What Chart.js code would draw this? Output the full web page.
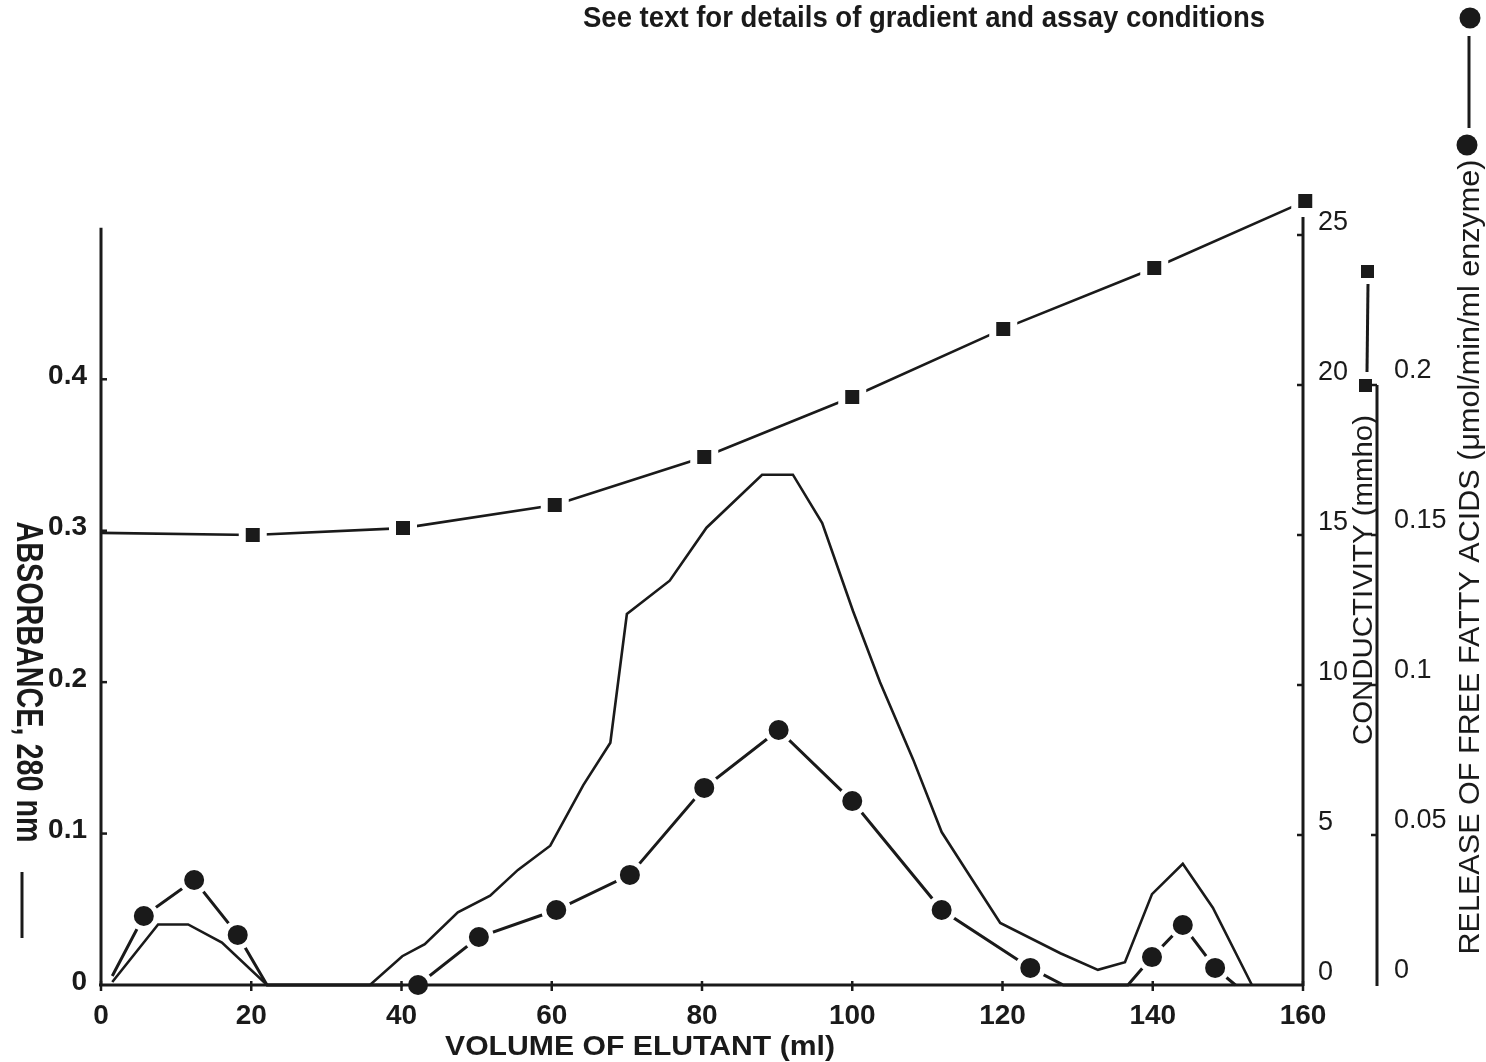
<!DOCTYPE html>
<html>
<head>
<meta charset="utf-8">
<script src="https://cdn.jsdelivr.net/npm/chart.js@4.4.1/dist/chart.umd.min.js"></script>
<style>
  html, body { margin: 0; padding: 0; background: #ffffff; }
  #wrap { width: 1486px; height: 1062px; position: relative; }
</style>
</head>
<body>
<div id="wrap"><canvas id="c" width="1486" height="1062"></canvas></div>
<script>
// ---------------- data ----------------
const xTickValues = [0, 20, 40, 60, 80, 100, 120, 140, 160];
const absTickValues = [0, 0.1, 0.2, 0.3, 0.4];
const absTickLabels = ['0', '0.1', '0.2', '0.3', '0.4'];
const condTickValues = [0, 5, 10, 15, 20, 25];
const condTickLabels = ['0', '5', '10', '15', '20', '25'];
const ffaTickValues = [0, 0.05, 0.1, 0.15, 0.2];
const ffaTickLabels = ['0', '0.05', '0.1', '0.15', '0.2'];

// Absorbance at 280 nm (solid trace)
const absVolume = [1.5, 7.6, 11.6, 16.1, 22.1, 35.8, 40.1, 43.1, 47.5, 51.8, 55.5, 59.8, 64.2, 67.8, 70.0, 75.7, 80.6, 88.0, 92.1, 96.0, 100.1, 103.7, 108.1, 111.9, 115.4, 119.7, 127.7, 132.7, 136.3, 139.9, 144.0, 148.0, 153.2];
const absValue  = [0.002, 0.040, 0.040, 0.028, 0, 0, 0.019, 0.027, 0.048, 0.059, 0.076, 0.092, 0.132, 0.160, 0.245, 0.267, 0.302, 0.337, 0.337, 0.305, 0.247, 0.200, 0.149, 0.101, 0.074, 0.041, 0.021, 0.010, 0.015, 0.060, 0.080, 0.051, 0];

// Release of free fatty acids (filled circles)
const ffaVolume  = [5.7, 12.4, 18.2, 42.2, 50.3, 60.6, 70.4, 80.3, 90.2, 100.0, 111.9, 123.7, 139.9, 144.0, 148.3];
const ffaRelease = [0.023, 0.035, 0.0167, 0, 0.016, 0.025, 0.0367, 0.0657, 0.085, 0.0613, 0.025, 0.0057, 0.0093, 0.020, 0.0057];
// where the activity trace meets the baseline
const ffaBaseVolume  = [1.5, 22.1, 128.1, 136.7, 151.0];
const ffaBaseRelease = [0.003, 0, 0, 0, 0];

// Conductivity (filled squares)
const condVolume = [20.2, 40.2, 60.4, 80.3, 100.0, 120.1, 140.2, 160.3];
const condValue  = [15.0, 15.23, 16.0, 17.6, 19.6, 21.87, 23.9, 26.13];
const condStartVolume = [0];
const condStartValue  = [15.07];

// ---------------- helpers ----------------
const INK = '#1a1a1a';
const FONT = '"Liberation Sans", Arial, Helvetica, sans-serif';
function pts(xs, ys) { return xs.map((x, i) => ({ x: x, y: ys[i] })); }
function merged(a, b) { return a.concat(b).sort((p, q) => p.x - q.x); }

function fitText(ctx, text, font, cx, cy, len, rot) {
  ctx.save();
  ctx.font = font;
  const w = ctx.measureText(text).width;
  ctx.translate(cx, cy);
  ctx.rotate(rot);
  ctx.scale(len / w, 1);
  ctx.textAlign = 'center';
  ctx.textBaseline = 'middle';
  ctx.fillStyle = INK;
  ctx.fillText(text, 0, 0);
  ctx.restore();
}
function seg(ctx, x1, y1, x2, y2) { ctx.beginPath(); ctx.moveTo(x1, y1); ctx.lineTo(x2, y2); ctx.stroke(); }

const axesPlugin = {
  id: 'axesPlugin',
  afterDatasetsDraw(chart) {
    const { ctx, scales } = chart;
    const sx = scales.x, sy = scales.y, sc = scales.y1, sf = scales.y2;
    const y0 = sy.getPixelForValue(0);
    const xl = sx.getPixelForValue(0);
    const xr = sx.getPixelForValue(160);
    const xc = sc.left;
    const xf = sf.left;
    ctx.save();
    ctx.strokeStyle = INK;
    ctx.lineCap = 'butt';
    ctx.lineWidth = 3;
    // x axis
    seg(ctx, xl - 2, y0, xr + 1, y0);
    // left (absorbance) axis
    seg(ctx, xl, y0 + 1, xl, sy.getPixelForValue(0.5));
    // conductivity axis
    seg(ctx, xc, sc.getPixelForValue(0) + 1, xc, sc.getPixelForValue(25.6));
    // FFA axis
    seg(ctx, xf, sf.getPixelForValue(0) + 1, xf, sf.getPixelForValue(0.2));
    ctx.lineWidth = 2.5;
    xTickValues.forEach(v => { const p = sx.getPixelForValue(v); seg(ctx, p, y0 - 4, p, y0 + 6); });
    absTickValues.forEach(v => { if (v > 0) { const p = sy.getPixelForValue(v); seg(ctx, xl, p, xl + 6, p); } });
    condTickValues.forEach(v => { if (v > 0) { const p = sc.getPixelForValue(v); seg(ctx, xc - 6, p, xc, p); } });
    ffaTickValues.forEach(v => { if (v > 0) { const p = sf.getPixelForValue(v); seg(ctx, xf - 6, p, xf, p); } });
    ctx.restore();
  },
  afterDraw(chart) {
    const { ctx } = chart;
    // axis titles
    fitText(ctx, 'ABSORBANCE, 280 nm', 'bold 36px ' + FONT, 27, 682, 321, Math.PI / 2);
    fitText(ctx, 'CONDUCTIVITY (mmho)', '28px ' + FONT, 1364, 580, 330, -Math.PI / 2);
    fitText(ctx, 'RELEASE OF FREE FATTY ACIDS (\u03BCmol/min/ml enzyme)', '30px ' + FONT, 1471, 557, 795, -Math.PI / 2);
    fitText(ctx, 'VOLUME OF ELUTANT (ml)', 'bold 27px ' + FONT, 640, 1048, 390, 0);
    fitText(ctx, 'See text for details of gradient and assay conditions', 'bold 29px ' + FONT, 924, 19, 682, 0);

    // key glyphs next to titles
    ctx.save();
    ctx.strokeStyle = INK; ctx.fillStyle = INK; ctx.lineWidth = 3;
    // absorbance: plain line
    seg(ctx, 22, 872, 22, 938);
    // conductivity: square - square
    ctx.fillRect(1361, 265, 13, 13);
    ctx.fillRect(1359, 379, 13, 13);
    seg(ctx, 1368, 284, 1367, 372);
    // FFA: circle - circle
    ctx.beginPath(); ctx.arc(1470, 18, 10.5, 0, Math.PI * 2); ctx.fill();
    ctx.beginPath(); ctx.arc(1467, 145, 10.5, 0, Math.PI * 2); ctx.fill();
    seg(ctx, 1469, 36, 1469, 128);
    ctx.restore();
  }
};

const ctx = document.getElementById('c').getContext('2d');
new Chart(ctx, {
  type: 'line',
  data: {
    datasets: [
      { label: 'Absorbance 280 nm', data: pts(absVolume, absValue), yAxisID: 'y',
        borderColor: INK, borderWidth: 2.6, pointRadius: 0, tension: 0, fill: false, clip: false },
      { label: 'FFA release (points)', data: pts(ffaVolume, ffaRelease), yAxisID: 'y2', showLine: false,
        pointRadius: 12.5, pointBorderWidth: 5, pointBackgroundColor: INK, pointBorderColor: '#ffffff', clip: false },
      { label: 'FFA release', data: merged(pts(ffaVolume, ffaRelease), pts(ffaBaseVolume, ffaBaseRelease)), yAxisID: 'y2',
        borderColor: INK, borderWidth: 3, pointRadius: 0, tension: 0, fill: false, clip: false },
      { label: 'Conductivity (points)', data: pts(condVolume, condValue), yAxisID: 'y1', showLine: false,
        pointStyle: 'rect', pointRadius: 14.85, pointBorderWidth: 7, pointBackgroundColor: INK, pointBorderColor: '#ffffff', clip: false },
      { label: 'Conductivity', data: merged(pts(condStartVolume, condStartValue), pts(condVolume, condValue)), yAxisID: 'y1',
        borderColor: INK, borderWidth: 2.6, pointRadius: 0, tension: 0, fill: false, clip: false }
    ]
  },
  options: {
    responsive: false,
    animation: false,
    devicePixelRatio: 1,
    events: [],
    layout: { padding: { top: 190, left: 0, right: 0, bottom: 0 } },
    plugins: { legend: { display: false }, tooltip: { enabled: false }, title: { display: false } },
    scales: {
      x: {
        type: 'linear', position: 'bottom', min: 0, max: 160,
        afterBuildTicks: s => { s.ticks = xTickValues.map(v => ({ value: v })); },
        afterFit: s => { s.height = 77; },
        grid: { display: false }, border: { display: false },
        ticks: { autoSkip: false, maxRotation: 0, padding: 6, color: INK,
                 font: { family: FONT, size: 28, weight: 'bold' }, callback: v => String(v) }
      },
      y: {
        type: 'linear', position: 'left', min: 0, max: 0.525,
        afterBuildTicks: s => { s.ticks = absTickValues.map(v => ({ value: v })); },
        afterFit: s => { s.width = 101; },
        grid: { display: false }, border: { display: false },
        ticks: { padding: 6, labelOffset: -3, color: INK,
                 font: { family: FONT, size: 28, weight: 'bold' }, callback: (v, i) => absTickLabels[i] }
      },
      y1: {
        type: 'linear', position: 'right', weight: 0, min: 0, max: 26.5,
        afterBuildTicks: s => { s.ticks = condTickValues.map(v => ({ value: v })); },
        afterFit: s => { s.width = 74; },
        grid: { display: false }, border: { display: false },
        ticks: { padding: 7, labelOffset: -12, color: INK,
                 font: { family: FONT, size: 27 }, callback: (v, i) => condTickLabels[i] }
      },
      y2: {
        type: 'linear', position: 'right', weight: 1, min: 0, max: 0.265,
        afterBuildTicks: s => { s.ticks = ffaTickValues.map(v => ({ value: v })); },
        afterFit: s => { s.width = 109; },
        grid: { display: false }, border: { display: false },
        ticks: { padding: 9, labelOffset: -14, color: INK,
                 font: { family: FONT, size: 27 }, callback: (v, i) => ffaTickLabels[i] }
      }
    }
  },
  plugins: [axesPlugin]
});
</script>
</body>
</html>
